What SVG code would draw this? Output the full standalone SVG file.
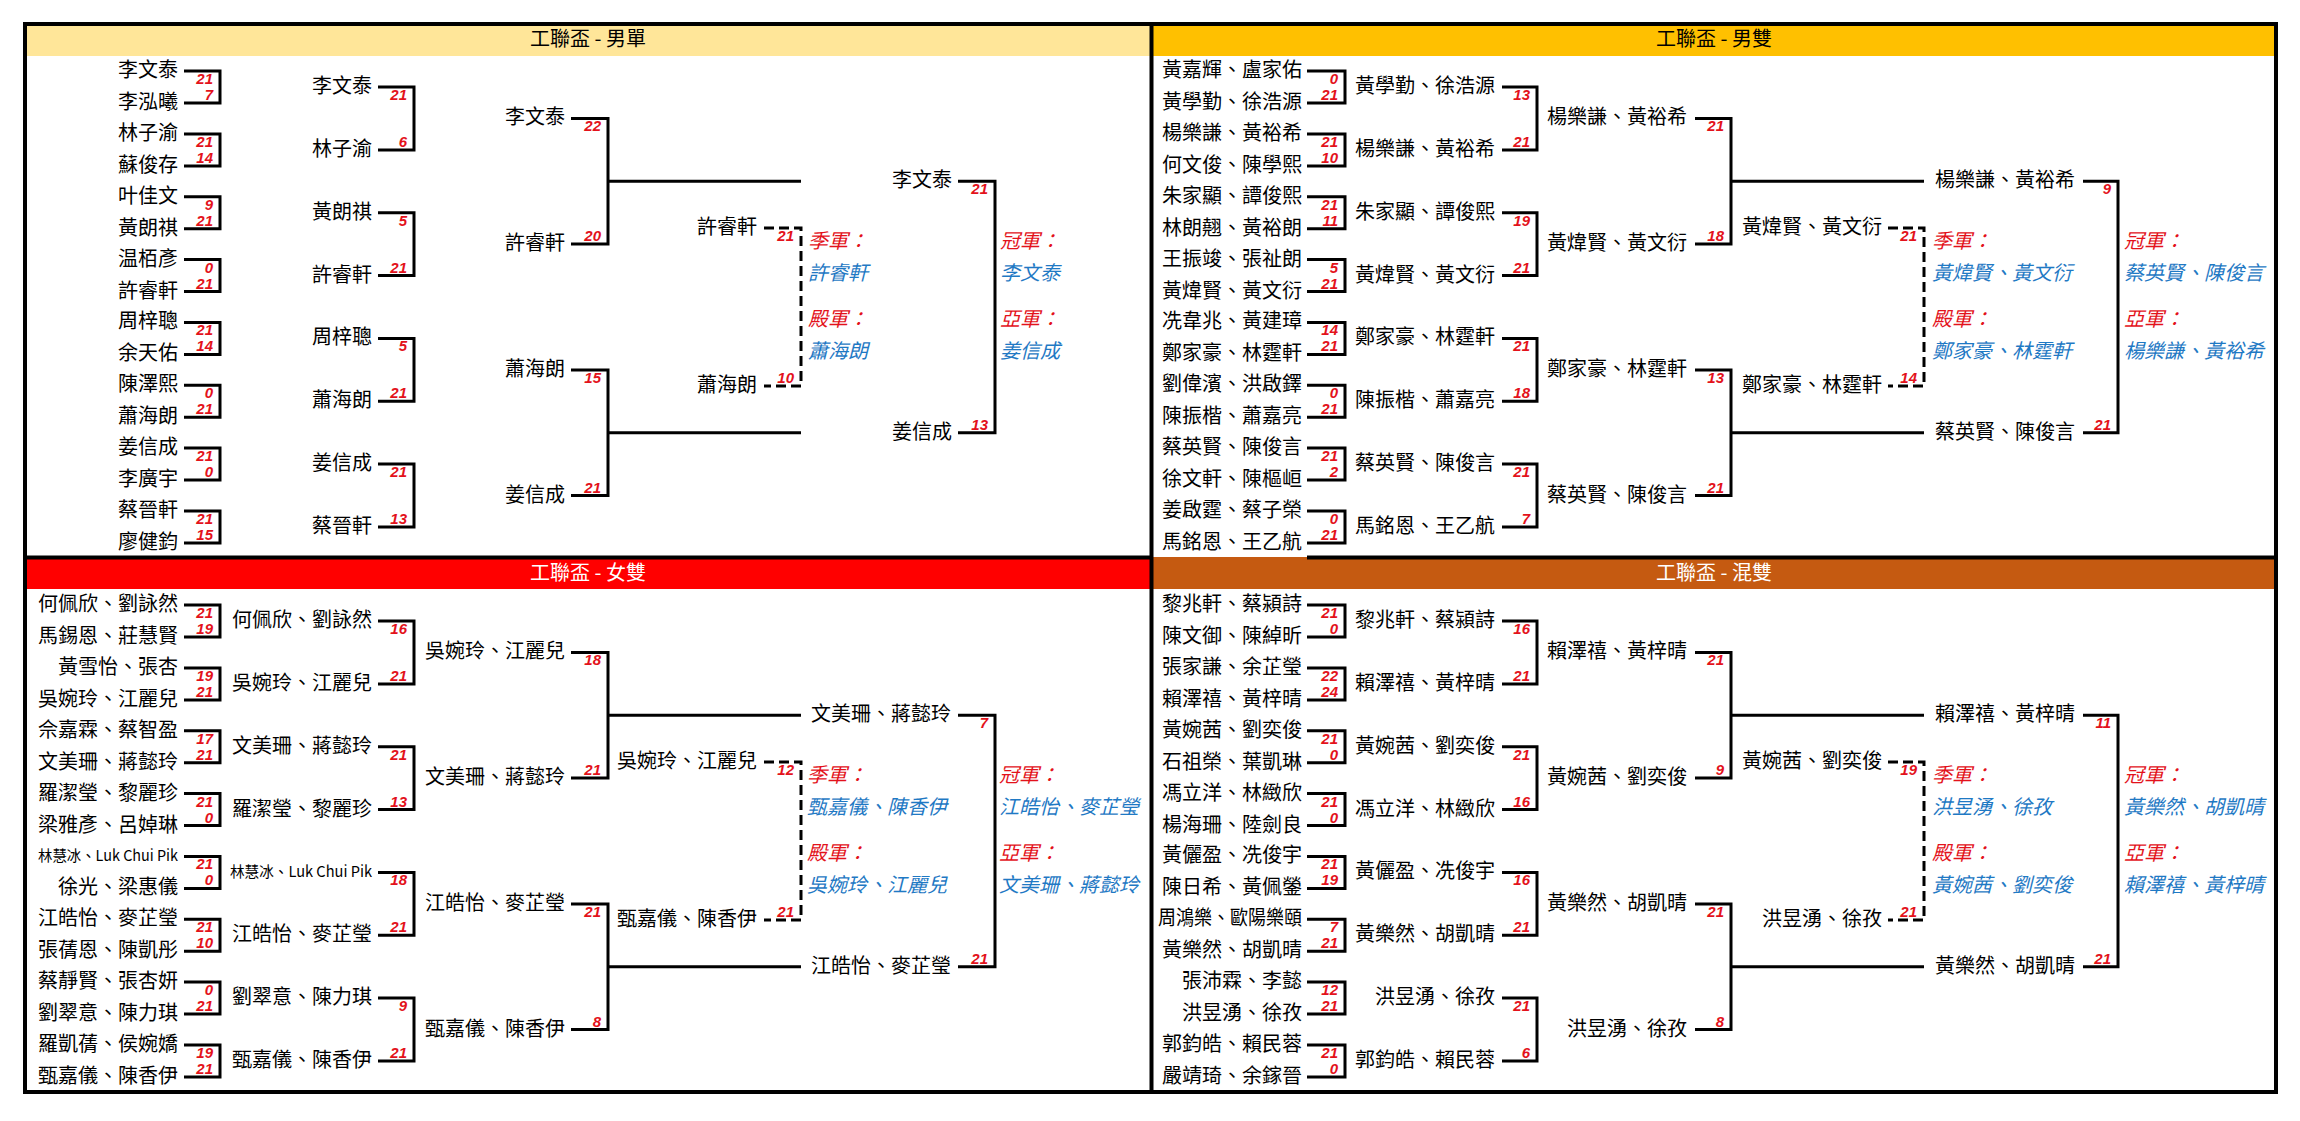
<svg xmlns="http://www.w3.org/2000/svg" width="2300" height="1121" viewBox="0 0 2300 1121">
<style>
text{font-family:"Noto Sans CJK TC","Liberation Sans",sans-serif}
.n{font-size:20px;fill:#000;text-anchor:end}
.s{font-family:"Liberation Sans",Arial,sans-serif;font-size:15px;font-weight:bold;font-style:italic;fill:#E3121B;text-anchor:end}
.lr{font-size:20px;font-style:italic;fill:#E3121B}
.lb{font-size:20px;font-style:italic;fill:#1F79C4}
.hd{font-size:20px;text-anchor:middle}
.b{fill:none;stroke:#000;stroke-width:3}
.d{fill:none;stroke:#000;stroke-width:3;stroke-dasharray:10 5}
.fr{fill:none;stroke:#000;stroke-width:4}
</style>
<rect width="2300" height="1121" fill="#fff"/>
<g id="headers">
<rect x="26" y="26" width="1124" height="30" fill="#FFE699"/>
<rect x="1153" y="26" width="1122" height="30" fill="#FFC000"/>
<rect x="26" y="559" width="1124" height="30" fill="#FF0000"/>
<rect x="1153" y="557" width="1122" height="32" fill="#C55A11"/>
<text class="hd" x="588" y="46" fill="#000">工聯盃 - 男單</text>
<text class="hd" x="1714" y="46" fill="#000">工聯盃 - 男雙</text>
<text class="hd" x="588" y="580" fill="#fff">工聯盃 - 女雙</text>
<text class="hd" x="1714" y="580" fill="#fff">工聯盃 - 混雙</text>
</g>
<g id="frame">
<rect class="fr" x="25" y="24" width="2251" height="1068"/>
<line class="fr" x1="1151.5" y1="24" x2="1151.5" y2="1092"/>
<line class="fr" x1="25" y1="557.5" x2="1151" y2="557.5"/>
<line class="fr" x1="1307" y1="557.5" x2="2276" y2="557.5"/>
</g>
<g id="connectors">
<g id="conn-ms">
<path class="b" d="M184,71H220V103H184M184,133.9H220V165.9H184M184,196.7H220V228.7H184M184,259.6H220V291.6H184M184,322.4H220V354.4H184M184,385.3H220V417.3H184M184,448.1H220V480.1H184M184,511H220V543H184"/>
<path class="b" d="M378,87H414V149.9H378M378,212.7H414V275.6H378M378,338.4H414V401.3H378M378,464.1H414V527H378"/>
<path class="b" d="M571,118.4H608V244.1H571M571,369.9H608V495.6H571M608,181.3H801M608,432.7H801M958,181.3H995V432.7H958"/>
<path class="d" d="M764,228H801V386H764"/>
</g>
<g id="conn-md">
<path class="b" d="M1307,71H1345V103H1307M1307,133.9H1345V165.9H1307M1307,196.7H1345V228.7H1307M1307,259.6H1345V291.6H1307M1307,322.4H1345V354.4H1307M1307,385.3H1345V417.3H1307M1307,448.1H1345V480.1H1307M1307,511H1345V543H1307"/>
<path class="b" d="M1502,87H1537V149.9H1502M1502,212.7H1537V275.6H1502M1502,338.4H1537V401.3H1502M1502,464.1H1537V527H1502"/>
<path class="b" d="M1695,118.4H1731V244.1H1695M1695,369.9H1731V495.6H1695M1731,181.3H1924M1731,432.7H1924M2083,181.3H2118V432.7H2083"/>
<path class="d" d="M1888,228H1924V386H1888"/>
</g>
<g id="conn-wd" transform="translate(0,534)">
<path class="b" d="M184,71H220V103H184M184,133.9H220V165.9H184M184,196.7H220V228.7H184M184,259.6H220V291.6H184M184,322.4H220V354.4H184M184,385.3H220V417.3H184M184,448.1H220V480.1H184M184,511H220V543H184"/>
<path class="b" d="M378,87H414V149.9H378M378,212.7H414V275.6H378M378,338.4H414V401.3H378M378,464.1H414V527H378"/>
<path class="b" d="M571,118.4H608V244.1H571M571,369.9H608V495.6H571M608,181.3H801M608,432.7H801M958,181.3H995V432.7H958"/>
<path class="d" d="M764,228H801V386H764"/>
</g>
<g id="conn-xd" transform="translate(0,534)">
<path class="b" d="M1307,71H1345V103H1307M1307,133.9H1345V165.9H1307M1307,196.7H1345V228.7H1307M1307,259.6H1345V291.6H1307M1307,322.4H1345V354.4H1307M1307,385.3H1345V417.3H1307M1307,448.1H1345V480.1H1307M1307,511H1345V543H1307"/>
<path class="b" d="M1502,87H1537V149.9H1502M1502,212.7H1537V275.6H1502M1502,338.4H1537V401.3H1502M1502,464.1H1537V527H1502"/>
<path class="b" d="M1695,118.4H1731V244.1H1695M1695,369.9H1731V495.6H1695M1731,181.3H1924M1731,432.7H1924M2083,181.3H2118V432.7H2083"/>
<path class="d" d="M1888,228H1924V386H1888"/>
</g>
</g>

<g id="ms">
<g id="ms-r1">
<g id="ms-r1-1"><text class="n" x="178" y="77">李文泰</text><text class="s" x="213" y="84">21</text></g>
<g id="ms-r1-2"><text class="n" x="178" y="109">李泓曦</text><text class="s" x="213" y="100">7</text></g>
<g id="ms-r1-3"><text class="n" x="178" y="139.9">林子渝</text><text class="s" x="213" y="146.9">21</text></g>
<g id="ms-r1-4"><text class="n" x="178" y="171.9">蘇俊存</text><text class="s" x="213" y="162.9">14</text></g>
<g id="ms-r1-5"><text class="n" x="178" y="202.7">叶佳文</text><text class="s" x="213" y="209.7">9</text></g>
<g id="ms-r1-6"><text class="n" x="178" y="234.7">黃朗祺</text><text class="s" x="213" y="225.7">21</text></g>
<g id="ms-r1-7"><text class="n" x="178" y="265.6">温栢彥</text><text class="s" x="213" y="272.6">0</text></g>
<g id="ms-r1-8"><text class="n" x="178" y="297.6">許睿軒</text><text class="s" x="213" y="288.6">21</text></g>
<g id="ms-r1-9"><text class="n" x="178" y="328.4">周梓聰</text><text class="s" x="213" y="335.4">21</text></g>
<g id="ms-r1-10"><text class="n" x="178" y="360.4">余天佑</text><text class="s" x="213" y="351.4">14</text></g>
<g id="ms-r1-11"><text class="n" x="178" y="391.3">陳澤熙</text><text class="s" x="213" y="398.3">0</text></g>
<g id="ms-r1-12"><text class="n" x="178" y="423.3">蕭海朗</text><text class="s" x="213" y="414.3">21</text></g>
<g id="ms-r1-13"><text class="n" x="178" y="454.1">姜信成</text><text class="s" x="213" y="461.1">21</text></g>
<g id="ms-r1-14"><text class="n" x="178" y="486.1">李廣宇</text><text class="s" x="213" y="477.1">0</text></g>
<g id="ms-r1-15"><text class="n" x="178" y="517">蔡晉軒</text><text class="s" x="213" y="524">21</text></g>
<g id="ms-r1-16"><text class="n" x="178" y="549">廖健鈞</text><text class="s" x="213" y="540">15</text></g>
</g>
<g id="ms-r2">
<g id="ms-r2-1"><text class="n" x="372" y="93">李文泰</text><text class="s" x="407" y="100">21</text></g>
<g id="ms-r2-2"><text class="n" x="372" y="155.9">林子渝</text><text class="s" x="407" y="146.9">6</text></g>
<g id="ms-r2-3"><text class="n" x="372" y="218.7">黃朗祺</text><text class="s" x="407" y="225.7">5</text></g>
<g id="ms-r2-4"><text class="n" x="372" y="281.6">許睿軒</text><text class="s" x="407" y="272.6">21</text></g>
<g id="ms-r2-5"><text class="n" x="372" y="344.4">周梓聰</text><text class="s" x="407" y="351.4">5</text></g>
<g id="ms-r2-6"><text class="n" x="372" y="407.3">蕭海朗</text><text class="s" x="407" y="398.3">21</text></g>
<g id="ms-r2-7"><text class="n" x="372" y="470.1">姜信成</text><text class="s" x="407" y="477.1">21</text></g>
<g id="ms-r2-8"><text class="n" x="372" y="533">蔡晉軒</text><text class="s" x="407" y="524">13</text></g>
</g>
<g id="ms-r3">
<g id="ms-r3-1"><text class="n" x="565" y="124.4">李文泰</text><text class="s" x="601" y="131.4">22</text></g>
<g id="ms-r3-2"><text class="n" x="565" y="250.1">許睿軒</text><text class="s" x="601" y="241.1">20</text></g>
<g id="ms-r3-3"><text class="n" x="565" y="375.9">蕭海朗</text><text class="s" x="601" y="382.9">15</text></g>
<g id="ms-r3-4"><text class="n" x="565" y="501.6">姜信成</text><text class="s" x="601" y="492.6">21</text></g>
</g>
<g id="ms-sf">
<g id="ms-sf-1"><text class="n" x="757" y="234">許睿軒</text><text class="s" x="794" y="241">21</text></g>
<g id="ms-sf-2"><text class="n" x="757" y="392">蕭海朗</text><text class="s" x="794" y="383">10</text></g>
<g id="ms-f-1"><text class="n" x="952" y="187.3">李文泰</text><text class="s" x="988" y="194.3">21</text></g>
<g id="ms-f-2"><text class="n" x="952" y="438.7">姜信成</text><text class="s" x="988" y="429.7">13</text></g>
</g>
<g id="ms-result">
<text class="lr" x="808" y="248">季軍：</text><text class="lb" x="808" y="280">許睿軒</text>
<text class="lr" x="808" y="326">殿軍：</text><text class="lb" x="808" y="358">蕭海朗</text>
<text class="lr" x="1000" y="248">冠軍：</text><text class="lb" x="1000" y="280">李文泰</text>
<text class="lr" x="1000" y="326">亞軍：</text><text class="lb" x="1000" y="358">姜信成</text>
</g>
</g>

<g id="md">
<g id="md-r1">
<g id="md-r1-1"><text class="n" x="1302" y="77">黃嘉輝、盧家佑</text><text class="s" x="1338" y="84">0</text></g>
<g id="md-r1-2"><text class="n" x="1302" y="109">黃學勤、徐浩源</text><text class="s" x="1338" y="100">21</text></g>
<g id="md-r1-3"><text class="n" x="1302" y="139.9">楊樂謙、黃裕希</text><text class="s" x="1338" y="146.9">21</text></g>
<g id="md-r1-4"><text class="n" x="1302" y="171.9">何文俊、陳學熙</text><text class="s" x="1338" y="162.9">10</text></g>
<g id="md-r1-5"><text class="n" x="1302" y="202.7">朱家顯、譚俊熙</text><text class="s" x="1338" y="209.7">21</text></g>
<g id="md-r1-6"><text class="n" x="1302" y="234.7">林朗翹、黃裕朗</text><text class="s" x="1338" y="225.7">11</text></g>
<g id="md-r1-7"><text class="n" x="1302" y="265.6">王振竣、張祉朗</text><text class="s" x="1338" y="272.6">5</text></g>
<g id="md-r1-8"><text class="n" x="1302" y="297.6">黃煒賢、黃文衍</text><text class="s" x="1338" y="288.6">21</text></g>
<g id="md-r1-9"><text class="n" x="1302" y="328.4">冼韋兆、黃建璋</text><text class="s" x="1338" y="335.4">14</text></g>
<g id="md-r1-10"><text class="n" x="1302" y="360.4">鄭家豪、林霆軒</text><text class="s" x="1338" y="351.4">21</text></g>
<g id="md-r1-11"><text class="n" x="1302" y="391.3">劉偉濱、洪啟鐸</text><text class="s" x="1338" y="398.3">0</text></g>
<g id="md-r1-12"><text class="n" x="1302" y="423.3">陳振楷、蕭嘉亮</text><text class="s" x="1338" y="414.3">21</text></g>
<g id="md-r1-13"><text class="n" x="1302" y="454.1">蔡英賢、陳俊言</text><text class="s" x="1338" y="461.1">21</text></g>
<g id="md-r1-14"><text class="n" x="1302" y="486.1">徐文軒、陳樞峘</text><text class="s" x="1338" y="477.1">2</text></g>
<g id="md-r1-15"><text class="n" x="1302" y="517">姜啟霆、蔡子榮</text><text class="s" x="1338" y="524">0</text></g>
<g id="md-r1-16"><text class="n" x="1302" y="549">馬銘恩、王乙航</text><text class="s" x="1338" y="540">21</text></g>
</g>
<g id="md-r2">
<g id="md-r2-1"><text class="n" x="1495" y="93">黃學勤、徐浩源</text><text class="s" x="1530" y="100">13</text></g>
<g id="md-r2-2"><text class="n" x="1495" y="155.9">楊樂謙、黃裕希</text><text class="s" x="1530" y="146.9">21</text></g>
<g id="md-r2-3"><text class="n" x="1495" y="218.7">朱家顯、譚俊熙</text><text class="s" x="1530" y="225.7">19</text></g>
<g id="md-r2-4"><text class="n" x="1495" y="281.6">黃煒賢、黃文衍</text><text class="s" x="1530" y="272.6">21</text></g>
<g id="md-r2-5"><text class="n" x="1495" y="344.4">鄭家豪、林霆軒</text><text class="s" x="1530" y="351.4">21</text></g>
<g id="md-r2-6"><text class="n" x="1495" y="407.3">陳振楷、蕭嘉亮</text><text class="s" x="1530" y="398.3">18</text></g>
<g id="md-r2-7"><text class="n" x="1495" y="470.1">蔡英賢、陳俊言</text><text class="s" x="1530" y="477.1">21</text></g>
<g id="md-r2-8"><text class="n" x="1495" y="533">馬銘恩、王乙航</text><text class="s" x="1530" y="524">7</text></g>
</g>
<g id="md-r3">
<g id="md-r3-1"><text class="n" x="1687" y="124.4">楊樂謙、黃裕希</text><text class="s" x="1724" y="131.4">21</text></g>
<g id="md-r3-2"><text class="n" x="1687" y="250.1">黃煒賢、黃文衍</text><text class="s" x="1724" y="241.1">18</text></g>
<g id="md-r3-3"><text class="n" x="1687" y="375.9">鄭家豪、林霆軒</text><text class="s" x="1724" y="382.9">13</text></g>
<g id="md-r3-4"><text class="n" x="1687" y="501.6">蔡英賢、陳俊言</text><text class="s" x="1724" y="492.6">21</text></g>
</g>
<g id="md-sf">
<g id="md-sf-1"><text class="n" x="1882" y="234">黃煒賢、黃文衍</text><text class="s" x="1917" y="241">21</text></g>
<g id="md-sf-2"><text class="n" x="1882" y="392">鄭家豪、林霆軒</text><text class="s" x="1917" y="383">14</text></g>
<g id="md-f-1"><text class="n" x="2075" y="187.3">楊樂謙、黃裕希</text><text class="s" x="2111" y="194.3">9</text></g>
<g id="md-f-2"><text class="n" x="2075" y="438.7">蔡英賢、陳俊言</text><text class="s" x="2111" y="429.7">21</text></g>
</g>
<g id="md-result">
<text class="lr" x="1932" y="248">季軍：</text><text class="lb" x="1932" y="280">黃煒賢、黃文衍</text>
<text class="lr" x="1932" y="326">殿軍：</text><text class="lb" x="1932" y="358">鄭家豪、林霆軒</text>
<text class="lr" x="2124" y="248">冠軍：</text><text class="lb" x="2124" y="280">蔡英賢、陳俊言</text>
<text class="lr" x="2124" y="326">亞軍：</text><text class="lb" x="2124" y="358">楊樂謙、黃裕希</text>
</g>
</g>

<g id="wd" transform="translate(0,534)">
<g id="wd-r1">
<g id="wd-r1-1"><text class="n" x="178" y="77">何佩欣、劉詠然</text><text class="s" x="213" y="84">21</text></g>
<g id="wd-r1-2"><text class="n" x="178" y="109">馬錫恩、莊慧賢</text><text class="s" x="213" y="100">19</text></g>
<g id="wd-r1-3"><text class="n" x="178" y="139.9">黃雪怡、張杏</text><text class="s" x="213" y="146.9">19</text></g>
<g id="wd-r1-4"><text class="n" x="178" y="171.9">吳婉玲、江麗兒</text><text class="s" x="213" y="162.9">21</text></g>
<g id="wd-r1-5"><text class="n" x="178" y="202.7">佘嘉霖、蔡智盈</text><text class="s" x="213" y="209.7">17</text></g>
<g id="wd-r1-6"><text class="n" x="178" y="234.7">文美珊、蔣懿玲</text><text class="s" x="213" y="225.7">21</text></g>
<g id="wd-r1-7"><text class="n" x="178" y="265.6">羅潔瑩、黎麗珍</text><text class="s" x="213" y="272.6">21</text></g>
<g id="wd-r1-8"><text class="n" x="178" y="297.6">梁雅彥、呂婥琳</text><text class="s" x="213" y="288.6">0</text></g>
<g id="wd-r1-9"><text class="n" x="178" y="327.4" style="font-size:15px" textLength="140" lengthAdjust="spacingAndGlyphs">林慧冰、Luk Chui Pik</text><text class="s" x="213" y="335.4">21</text></g>
<g id="wd-r1-10"><text class="n" x="178" y="360.4">徐光、梁惠儀</text><text class="s" x="213" y="351.4">0</text></g>
<g id="wd-r1-11"><text class="n" x="178" y="391.3">江皓怡、麥芷瑩</text><text class="s" x="213" y="398.3">21</text></g>
<g id="wd-r1-12"><text class="n" x="178" y="423.3">張蒨恩、陳凱彤</text><text class="s" x="213" y="414.3">10</text></g>
<g id="wd-r1-13"><text class="n" x="178" y="454.1">蔡靜賢、張杏妍</text><text class="s" x="213" y="461.1">0</text></g>
<g id="wd-r1-14"><text class="n" x="178" y="486.1">劉翠意、陳力琪</text><text class="s" x="213" y="477.1">21</text></g>
<g id="wd-r1-15"><text class="n" x="178" y="517">羅凱蒨、侯婉嬌</text><text class="s" x="213" y="524">19</text></g>
<g id="wd-r1-16"><text class="n" x="178" y="549">甄嘉儀、陳香伊</text><text class="s" x="213" y="540">21</text></g>
</g>
<g id="wd-r2">
<g id="wd-r2-1"><text class="n" x="372" y="93">何佩欣、劉詠然</text><text class="s" x="407" y="100">16</text></g>
<g id="wd-r2-2"><text class="n" x="372" y="155.9">吳婉玲、江麗兒</text><text class="s" x="407" y="146.9">21</text></g>
<g id="wd-r2-3"><text class="n" x="372" y="218.7">文美珊、蔣懿玲</text><text class="s" x="407" y="225.7">21</text></g>
<g id="wd-r2-4"><text class="n" x="372" y="281.6">羅潔瑩、黎麗珍</text><text class="s" x="407" y="272.6">13</text></g>
<g id="wd-r2-5"><text class="n" x="372" y="343.4" style="font-size:15px" textLength="142" lengthAdjust="spacingAndGlyphs">林慧冰、Luk Chui Pik</text><text class="s" x="407" y="351.4">18</text></g>
<g id="wd-r2-6"><text class="n" x="372" y="407.3">江皓怡、麥芷瑩</text><text class="s" x="407" y="398.3">21</text></g>
<g id="wd-r2-7"><text class="n" x="372" y="470.1">劉翠意、陳力琪</text><text class="s" x="407" y="477.1">9</text></g>
<g id="wd-r2-8"><text class="n" x="372" y="533">甄嘉儀、陳香伊</text><text class="s" x="407" y="524">21</text></g>
</g>
<g id="wd-r3">
<g id="wd-r3-1"><text class="n" x="565" y="124.4">吳婉玲、江麗兒</text><text class="s" x="601" y="131.4">18</text></g>
<g id="wd-r3-2"><text class="n" x="565" y="250.1">文美珊、蔣懿玲</text><text class="s" x="601" y="241.1">21</text></g>
<g id="wd-r3-3"><text class="n" x="565" y="375.9">江皓怡、麥芷瑩</text><text class="s" x="601" y="382.9">21</text></g>
<g id="wd-r3-4"><text class="n" x="565" y="501.6">甄嘉儀、陳香伊</text><text class="s" x="601" y="492.6">8</text></g>
</g>
<g id="wd-sf">
<g id="wd-sf-1"><text class="n" x="757" y="234">吳婉玲、江麗兒</text><text class="s" x="794" y="241">12</text></g>
<g id="wd-sf-2"><text class="n" x="757" y="392">甄嘉儀、陳香伊</text><text class="s" x="794" y="383">21</text></g>
<g id="wd-f-1"><text class="n" x="951" y="187.3">文美珊、蔣懿玲</text><text class="s" x="988" y="194.3">7</text></g>
<g id="wd-f-2"><text class="n" x="951" y="438.7">江皓怡、麥芷瑩</text><text class="s" x="988" y="429.7">21</text></g>
</g>
<g id="wd-result">
<text class="lr" x="807" y="248">季軍：</text><text class="lb" x="807" y="280">甄嘉儀、陳香伊</text>
<text class="lr" x="807" y="326">殿軍：</text><text class="lb" x="807" y="358">吳婉玲、江麗兒</text>
<text class="lr" x="999" y="248">冠軍：</text><text class="lb" x="999" y="280">江皓怡、麥芷瑩</text>
<text class="lr" x="999" y="326">亞軍：</text><text class="lb" x="999" y="358">文美珊、蔣懿玲</text>
</g>
</g>

<g id="xd" transform="translate(0,534)">
<g id="xd-r1">
<g id="xd-r1-1"><text class="n" x="1302" y="77">黎兆軒、蔡潁詩</text><text class="s" x="1338" y="84">21</text></g>
<g id="xd-r1-2"><text class="n" x="1302" y="109">陳文御、陳綽昕</text><text class="s" x="1338" y="100">0</text></g>
<g id="xd-r1-3"><text class="n" x="1302" y="139.9">張家謙、余芷瑩</text><text class="s" x="1338" y="146.9">22</text></g>
<g id="xd-r1-4"><text class="n" x="1302" y="171.9">賴澤禧、黃梓晴</text><text class="s" x="1338" y="162.9">24</text></g>
<g id="xd-r1-5"><text class="n" x="1302" y="202.7">黃婉茜、劉奕俊</text><text class="s" x="1338" y="209.7">21</text></g>
<g id="xd-r1-6"><text class="n" x="1302" y="234.7">石祖榮、葉凱琳</text><text class="s" x="1338" y="225.7">0</text></g>
<g id="xd-r1-7"><text class="n" x="1302" y="265.6">馮立洋、林緻欣</text><text class="s" x="1338" y="272.6">21</text></g>
<g id="xd-r1-8"><text class="n" x="1302" y="297.6">楊海珊、陸劍良</text><text class="s" x="1338" y="288.6">0</text></g>
<g id="xd-r1-9"><text class="n" x="1302" y="328.4">黃儷盈、冼俊宇</text><text class="s" x="1338" y="335.4">21</text></g>
<g id="xd-r1-10"><text class="n" x="1302" y="360.4">陳日希、黃佩鎣</text><text class="s" x="1338" y="351.4">19</text></g>
<g id="xd-r1-11"><text class="n" x="1302" y="391.3" textLength="144" lengthAdjust="spacingAndGlyphs">周鴻樂、歐陽樂頤</text><text class="s" x="1338" y="398.3">7</text></g>
<g id="xd-r1-12"><text class="n" x="1302" y="423.3">黃樂然、胡凱晴</text><text class="s" x="1338" y="414.3">21</text></g>
<g id="xd-r1-13"><text class="n" x="1302" y="454.1">張沛霖、李懿</text><text class="s" x="1338" y="461.1">12</text></g>
<g id="xd-r1-14"><text class="n" x="1302" y="486.1">洪昱湧、徐孜</text><text class="s" x="1338" y="477.1">21</text></g>
<g id="xd-r1-15"><text class="n" x="1302" y="517">郭鈞皓、賴民蓉</text><text class="s" x="1338" y="524">21</text></g>
<g id="xd-r1-16"><text class="n" x="1302" y="549">嚴靖琦、余鎵晉</text><text class="s" x="1338" y="540">0</text></g>
</g>
<g id="xd-r2">
<g id="xd-r2-1"><text class="n" x="1495" y="93">黎兆軒、蔡潁詩</text><text class="s" x="1530" y="100">16</text></g>
<g id="xd-r2-2"><text class="n" x="1495" y="155.9">賴澤禧、黃梓晴</text><text class="s" x="1530" y="146.9">21</text></g>
<g id="xd-r2-3"><text class="n" x="1495" y="218.7">黃婉茜、劉奕俊</text><text class="s" x="1530" y="225.7">21</text></g>
<g id="xd-r2-4"><text class="n" x="1495" y="281.6">馮立洋、林緻欣</text><text class="s" x="1530" y="272.6">16</text></g>
<g id="xd-r2-5"><text class="n" x="1495" y="344.4">黃儷盈、冼俊宇</text><text class="s" x="1530" y="351.4">16</text></g>
<g id="xd-r2-6"><text class="n" x="1495" y="407.3">黃樂然、胡凱晴</text><text class="s" x="1530" y="398.3">21</text></g>
<g id="xd-r2-7"><text class="n" x="1495" y="470.1">洪昱湧、徐孜</text><text class="s" x="1530" y="477.1">21</text></g>
<g id="xd-r2-8"><text class="n" x="1495" y="533">郭鈞皓、賴民蓉</text><text class="s" x="1530" y="524">6</text></g>
</g>
<g id="xd-r3">
<g id="xd-r3-1"><text class="n" x="1687" y="124.4">賴澤禧、黃梓晴</text><text class="s" x="1724" y="131.4">21</text></g>
<g id="xd-r3-2"><text class="n" x="1687" y="250.1">黃婉茜、劉奕俊</text><text class="s" x="1724" y="241.1">9</text></g>
<g id="xd-r3-3"><text class="n" x="1687" y="375.9">黃樂然、胡凱晴</text><text class="s" x="1724" y="382.9">21</text></g>
<g id="xd-r3-4"><text class="n" x="1687" y="501.6">洪昱湧、徐孜</text><text class="s" x="1724" y="492.6">8</text></g>
</g>
<g id="xd-sf">
<g id="xd-sf-1"><text class="n" x="1882" y="234">黃婉茜、劉奕俊</text><text class="s" x="1917" y="241">19</text></g>
<g id="xd-sf-2"><text class="n" x="1882" y="392">洪昱湧、徐孜</text><text class="s" x="1917" y="383">21</text></g>
<g id="xd-f-1"><text class="n" x="2075" y="187.3">賴澤禧、黃梓晴</text><text class="s" x="2111" y="194.3">11</text></g>
<g id="xd-f-2"><text class="n" x="2075" y="438.7">黃樂然、胡凱晴</text><text class="s" x="2111" y="429.7">21</text></g>
</g>
<g id="xd-result">
<text class="lr" x="1932" y="248">季軍：</text><text class="lb" x="1932" y="280">洪昱湧、徐孜</text>
<text class="lr" x="1932" y="326">殿軍：</text><text class="lb" x="1932" y="358">黃婉茜、劉奕俊</text>
<text class="lr" x="2124" y="248">冠軍：</text><text class="lb" x="2124" y="280">黃樂然、胡凱晴</text>
<text class="lr" x="2124" y="326">亞軍：</text><text class="lb" x="2124" y="358">賴澤禧、黃梓晴</text>
</g>
</g>
</svg>
